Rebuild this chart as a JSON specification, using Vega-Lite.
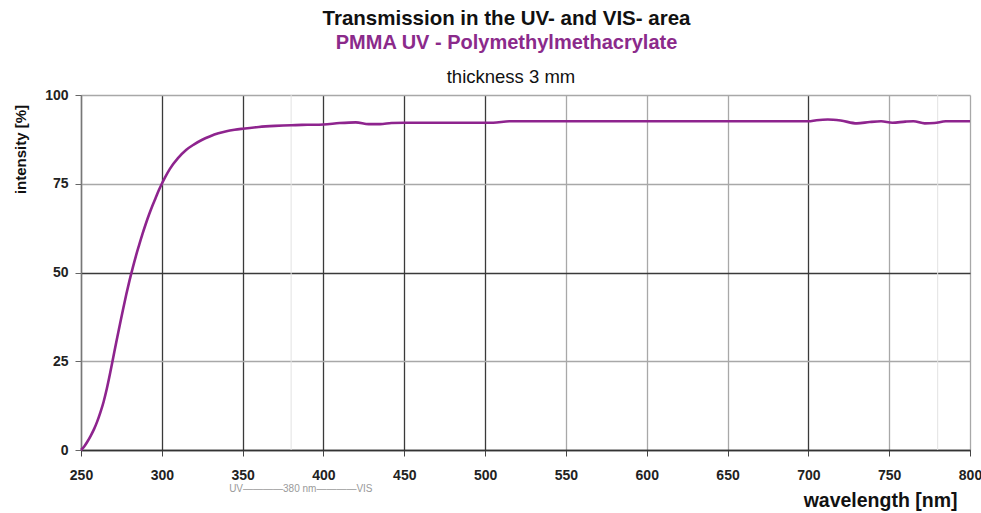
{
  "$schema": "https://vega.github.io/schema/vega-lite/v6.json",
  "width": 889,
  "height": 355,
  "autosize": {"type": "none"},
  "padding": {"left": 81, "top": 95, "right": 11, "bottom": 63},
  "background": "white",
  "config": {
    "font": "Liberation Sans",
    "view": {"stroke": null},
    "axis": {"labelFont": "Liberation Sans", "titleFont": "Liberation Sans"}
  },
  "title": {
    "text": "Transmission in the UV- and VIS- area",
    "subtitle": "PMMA UV - Polymethylmethacrylate",
    "anchor": "middle",
    "frame": "group",
    "dx": -19,
    "offset": 15,
    "font": "Liberation Sans",
    "fontSize": 20.5,
    "fontWeight": "bold",
    "color": "#111111",
    "subtitleFont": "Liberation Sans",
    "subtitleFontSize": 20,
    "subtitleFontWeight": "bold",
    "subtitleColor": "#8b2a8b",
    "subtitlePadding": 3
  },
  "datasets": {
    "curve": [
      {"wavelength": 250, "intensity": 0},
      {"wavelength": 252, "intensity": 1},
      {"wavelength": 254, "intensity": 2.4},
      {"wavelength": 256, "intensity": 4},
      {"wavelength": 258, "intensity": 5.8},
      {"wavelength": 260, "intensity": 8},
      {"wavelength": 262, "intensity": 10.6},
      {"wavelength": 264, "intensity": 13.6},
      {"wavelength": 266, "intensity": 17.3},
      {"wavelength": 268, "intensity": 21.6},
      {"wavelength": 270, "intensity": 26.2},
      {"wavelength": 272, "intensity": 30.8},
      {"wavelength": 274, "intensity": 35.2},
      {"wavelength": 276, "intensity": 39.6},
      {"wavelength": 278, "intensity": 43.8},
      {"wavelength": 280, "intensity": 47.7},
      {"wavelength": 282, "intensity": 51.3},
      {"wavelength": 284, "intensity": 54.7},
      {"wavelength": 286, "intensity": 57.8},
      {"wavelength": 288, "intensity": 60.8},
      {"wavelength": 290, "intensity": 63.6},
      {"wavelength": 292, "intensity": 66.2},
      {"wavelength": 294, "intensity": 68.6},
      {"wavelength": 296, "intensity": 70.8},
      {"wavelength": 298, "intensity": 73},
      {"wavelength": 300, "intensity": 75},
      {"wavelength": 302, "intensity": 76.8},
      {"wavelength": 305, "intensity": 79.2},
      {"wavelength": 310, "intensity": 82.2},
      {"wavelength": 315, "intensity": 84.5},
      {"wavelength": 320, "intensity": 86.1},
      {"wavelength": 325, "intensity": 87.4},
      {"wavelength": 330, "intensity": 88.4},
      {"wavelength": 335, "intensity": 89.2},
      {"wavelength": 340, "intensity": 89.8},
      {"wavelength": 345, "intensity": 90.2},
      {"wavelength": 350, "intensity": 90.5},
      {"wavelength": 360, "intensity": 91},
      {"wavelength": 370, "intensity": 91.3},
      {"wavelength": 380, "intensity": 91.5},
      {"wavelength": 390, "intensity": 91.6},
      {"wavelength": 400, "intensity": 91.7},
      {"wavelength": 410, "intensity": 92.1},
      {"wavelength": 420, "intensity": 92.3},
      {"wavelength": 428, "intensity": 91.8},
      {"wavelength": 435, "intensity": 91.8},
      {"wavelength": 442, "intensity": 92.1},
      {"wavelength": 450, "intensity": 92.2},
      {"wavelength": 480, "intensity": 92.2},
      {"wavelength": 505, "intensity": 92.2},
      {"wavelength": 515, "intensity": 92.6},
      {"wavelength": 550, "intensity": 92.6},
      {"wavelength": 600, "intensity": 92.6},
      {"wavelength": 650, "intensity": 92.6},
      {"wavelength": 700, "intensity": 92.6},
      {"wavelength": 705, "intensity": 92.9},
      {"wavelength": 712, "intensity": 93.1},
      {"wavelength": 720, "intensity": 92.8},
      {"wavelength": 730, "intensity": 92.0},
      {"wavelength": 738, "intensity": 92.4},
      {"wavelength": 745, "intensity": 92.6},
      {"wavelength": 752, "intensity": 92.2},
      {"wavelength": 760, "intensity": 92.5},
      {"wavelength": 765, "intensity": 92.6},
      {"wavelength": 772, "intensity": 92.0},
      {"wavelength": 778, "intensity": 92.1},
      {"wavelength": 785, "intensity": 92.6},
      {"wavelength": 800, "intensity": 92.6}
    ],
    "marks": [
      {"wavelength": 380},
      {"wavelength": 780}
    ],
    "notes": [
      {"wavelength": 516, "intensity": 103.4, "label": "thickness 3 mm"}
    ],
    "uv": [
      {"wavelength": 386, "intensity": -11, "label": "UV————380 nm————VIS"}
    ]
  },
  "layer": [
    {
      "data": {"name": "marks"},
      "mark": {"type": "rule", "color": "#e2e2e2", "strokeWidth": 1},
      "encoding": {
        "x": {
          "field": "wavelength",
          "type": "quantitative",
          "scale": {"domain": [250, 800], "nice": false, "zero": false},
          "axis": {
            "values": [250, 300, 350, 400, 450, 500, 550, 600, 650, 700, 750, 800],
            "title": "wavelength [nm]",
            "titleFontSize": 19.5,
            "titleFontWeight": "bold",
            "titleColor": "#111111",
            "titleAlign": "right",
            "titleBaseline": "alphabetic",
            "titleX": 876,
            "titleY": 56,
            "labelFontSize": 14,
            "labelFontWeight": "bold",
            "labelColor": "#222222",
            "labelPadding": 12,
            "labelFlush": false,
            "tickSize": 6,
            "tickColor": "#444444",
            "domainColor": "#333333",
            "domainWidth": 1.5,
            "grid": true,
            "gridWidth": 1.3,
            "gridColor": {
              "condition": {"test": "datum.value <= 500 || datum.value == 700", "value": "#3a3a3a"},
              "value": "#a8a8a8"
            }
          }
        }
      }
    },
    {
      "data": {"name": "curve"},
      "mark": {"type": "line", "color": "#8e248e", "strokeWidth": 2.6, "interpolate": "monotone"},
      "encoding": {
        "x": {"field": "wavelength", "type": "quantitative"},
        "y": {
          "field": "intensity",
          "type": "quantitative",
          "scale": {"domain": [0, 100], "nice": false},
          "axis": {
            "values": [0, 25, 50, 75, 100],
            "title": "intensity [%]",
            "titleFontSize": 15,
            "titleFontWeight": "bold",
            "titleColor": "#111111",
            "titleAngle": 270,
            "titleAlign": "center",
            "titleBaseline": "middle",
            "titleX": -61,
            "titleY": 54,
            "labelFontSize": 14,
            "labelFontWeight": "bold",
            "labelColor": "#222222",
            "labelPadding": 7,
            "labelFlush": false,
            "tickSize": 6,
            "tickColor": "#666666",
            "domainColor": "#777777",
            "domainWidth": 1.3,
            "grid": true,
            "gridWidth": 1.3,
            "gridColor": {
              "condition": {"test": "datum.value == 0 || datum.value == 50", "value": "#3a3a3a"},
              "value": "#a8a8a8"
            }
          }
        }
      }
    },
    {
      "data": {"name": "notes"},
      "mark": {"type": "text", "fontSize": 18.5, "color": "#111111", "align": "center", "baseline": "alphabetic", "font": "Liberation Sans"},
      "encoding": {
        "x": {"field": "wavelength", "type": "quantitative"},
        "y": {"field": "intensity", "type": "quantitative"},
        "text": {"field": "label"}
      }
    },
    {
      "data": {"name": "uv"},
      "mark": {"type": "text", "fontSize": 10, "color": "#9a9a9a", "align": "center", "baseline": "middle", "font": "Liberation Sans"},
      "encoding": {
        "x": {"field": "wavelength", "type": "quantitative"},
        "y": {"field": "intensity", "type": "quantitative"},
        "text": {"field": "label"}
      }
    }
  ]
}
